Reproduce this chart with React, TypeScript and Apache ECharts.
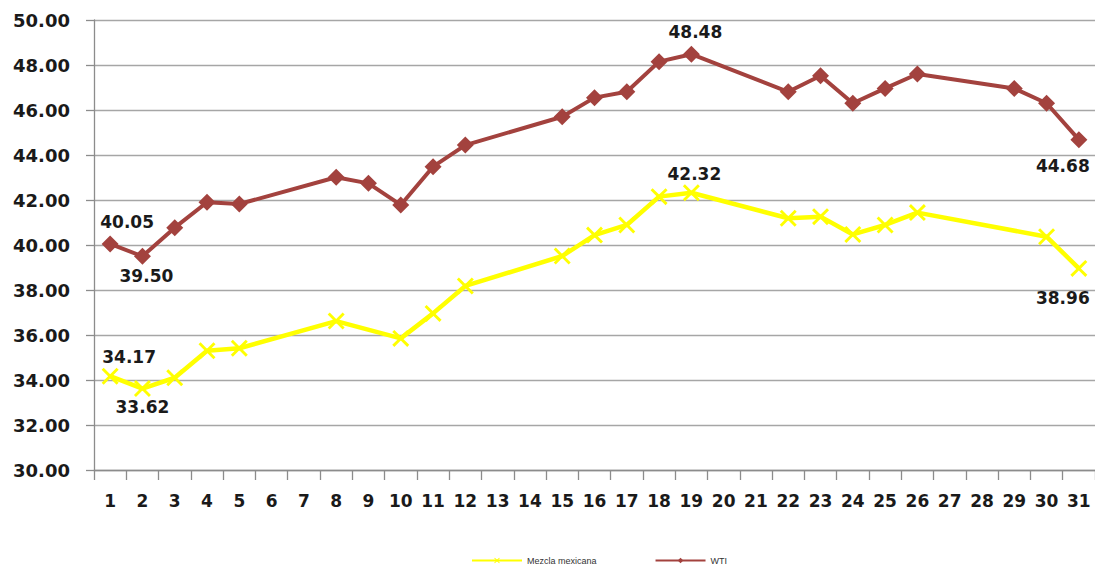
import React, { useEffect, useRef } from "react";
import * as echarts from "echarts";

const days = ["1","2","3","4","5","6","7","8","9","10","11","12","13","14","15","16","17","18","19","20","21","22","23","24","25","26","27","28","29","30","31"];

const mezcla: (number | null)[] = [34.17, 33.62, 34.10, 35.30, 35.41, null, null, 36.62, null, 35.85, 36.96, 38.18, null, null, 39.51, 40.44, 40.89, 42.15, 42.32, null, null, 41.19, 41.26, 40.47, 40.89, 41.44, null, null, null, 40.37, 38.96];

const wti: (number | null)[] = [40.05, 39.50, 40.77, 41.90, 41.82, null, null, 43.01, 42.74, 41.78, 43.48, 44.44, null, null, 45.70, 46.55, 46.81, 48.15, 48.48, null, null, 46.81, 47.52, 46.30, 46.96, 47.60, null, null, 46.96, 46.30, 44.68];

const seriesNames = ["Mezcla mexicana", "WTI"];

const mezclaLabels: Record<number, { position: string; offset: number[] }> = {
  0: { position: "top", offset: [19, 3] },
  1: { position: "bottom", offset: [0, -4] },
  18: { position: "top", offset: [3, 3] },
  30: { position: "bottom", offset: [-16, 8] },
};
const wtiLabels: Record<number, { position: string; offset: number[] }> = {
  0: { position: "top", offset: [17, 0] },
  1: { position: "bottom", offset: [4, -2] },
  18: { position: "top", offset: [4, 0] },
  30: { position: "bottom", offset: [-16, 4] },
};

const labelFont = {
  fontFamily: "DejaVu Sans",
  fontWeight: "bold",
  fontSize: 17,
  color: "#1a1a1a",
};

function buildData(values: (number | null)[], labels: Record<number, { position: string; offset: number[] }>) {
  return values.map((v, i) => {
    const l = labels[i];
    if (v === null) return null;
    if (!l) return v;
    return {
      value: v,
      label: {
        show: true,
        position: l.position,
        offset: l.offset,
        formatter: (p: any) => Number(p.value).toFixed(2),
        ...labelFont,
      },
    };
  });
}

const xPath = "path://M0,1.2 L1.2,0 L5,3.8 L8.8,0 L10,1.2 L6.2,5 L10,8.8 L8.8,10 L5,6.2 L1.2,10 L0,8.8 L3.8,5 Z";

export default function App() {
  const ref = useRef<HTMLDivElement>(null);
  useEffect(() => {
    if (!ref.current) return;
    const chart = echarts.init(ref.current, undefined, { renderer: "svg" });
    chart.setOption({
      animation: false,
      backgroundColor: "#ffffff",
      grid: { left: 94, top: 20, right: 0, bottom: 95, containLabel: false },
      legend: {
        left: 466,
        top: 551,
        itemWidth: 50,
        itemHeight: 7,
        itemGap: 58,
        textStyle: { fontFamily: "Liberation Sans", fontSize: 9, color: "#333" },
        data: seriesNames,
      },
      xAxis: {
        type: "category",
        data: days,
        boundaryGap: true,
        axisLine: { show: true, lineStyle: { color: "#8c8c8c", width: 1.3 } },
        axisTick: { show: true, length: 10, lineStyle: { color: "#8c8c8c", width: 1.3 } },
        axisLabel: {
          margin: 22,
          interval: 0,
          fontFamily: "DejaVu Sans",
          fontWeight: "bold",
          fontSize: 17,
          color: "#1a1a1a",
        },
        splitLine: { show: false },
      },
      yAxis: {
        type: "value",
        min: 30,
        max: 50,
        interval: 2,
        axisLine: { show: true, lineStyle: { color: "#8c8c8c", width: 1.3 } },
        axisTick: { show: true, length: 8, lineStyle: { color: "#8c8c8c", width: 1.3 } },
        axisLabel: {
          margin: 24,
          formatter: (v: number) => v.toFixed(2),
          fontFamily: "DejaVu Sans",
          fontWeight: "bold",
          fontSize: 18,
          color: "#1a1a1a",
        },
        splitLine: { show: true, lineStyle: { color: "#a6a6a6", width: 1.3 } },
      },
      series: [
        {
          name: seriesNames[0],
          type: "line",
          data: buildData(mezcla, mezclaLabels),
          connectNulls: true,
          symbol: xPath,
          symbolSize: 17,
          showAllSymbol: true,
          lineStyle: { color: "#FFFF00", width: 4.5 },
          itemStyle: { color: "#FFFF00" },
          z: 2,
        },
        {
          name: seriesNames[1],
          type: "line",
          data: buildData(wti, wtiLabels),
          connectNulls: true,
          symbol: "diamond",
          symbolSize: 17,
          showAllSymbol: true,
          lineStyle: { color: "#A3423E", width: 4 },
          itemStyle: { color: "#A3423E" },
          z: 3,
        },
      ],
    });
    return () => chart.dispose();
  }, []);
  return (
    <div
      ref={ref}
      style={{ position: "fixed", left: 0, top: 0, width: 1095, height: 565 }}
    />
  );
}
